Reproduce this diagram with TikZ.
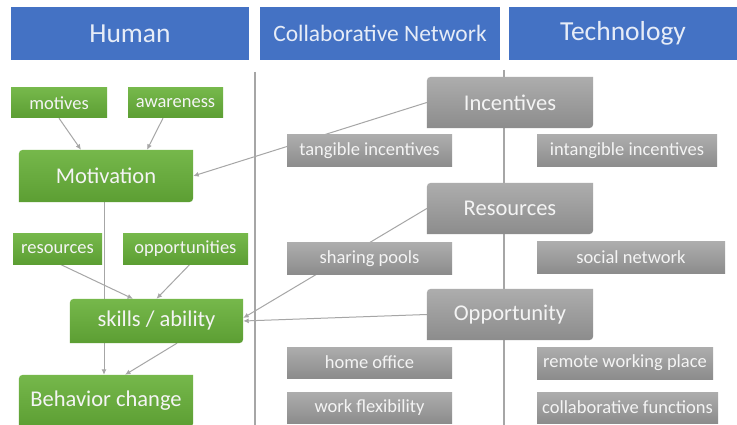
\documentclass[tikz,border=0pt]{standalone}
\usepackage{fontspec}
\setmainfont{Carlito}
\usetikzlibrary{arrows.meta}
\pgfdeclarelayer{bg}
\pgfdeclarelayer{lines}
\pgfdeclarelayer{boxes}
\pgfsetlayers{bg,lines,boxes,main}
\definecolor{hblue}{HTML}{4472C4}
\definecolor{gtop}{HTML}{76B84B}
\definecolor{gbot}{HTML}{5C9E33}
\definecolor{ytop}{HTML}{ADADAD}
\definecolor{ybot}{HTML}{8C8C8C}
\definecolor{ltxt}{HTML}{F4F4F4}
\definecolor{htxt}{HTML}{E6ECF7}
\definecolor{lgray}{HTML}{A6A6A6}
\newcommand\diagshade[3]{%
  \begin{pgfonlayer}{boxes}
  \shade[top color=#2,bottom color=#3]
    ([yshift=-9pt]#1.north west) .. controls (#1.north west) .. ([xshift=9pt]#1.north west)
    -- (#1.north east) -- ([yshift=9pt]#1.south east)
    .. controls (#1.south east) .. ([xshift=-9pt]#1.south east)
    -- (#1.south west) -- cycle;
  \end{pgfonlayer}}
\tikzset{
  hdr/.style={rectangle, fill=hblue, text=htxt, inner sep=0pt, minimum height=53pt, font=\fontsize{27.5}{30}\selectfont},
  gsmall/.style={rectangle, top color=gtop, bottom color=gbot, text=ltxt, inner sep=0pt, minimum height=30pt, font=\fontsize{18.5}{21}\selectfont},
  ysmall/.style={rectangle, top color=ytop, bottom color=ybot, text=ltxt, inner sep=0pt, minimum height=31pt, font=\fontsize{18.5}{21}\selectfont},
  bigbox/.style={rectangle, inner sep=0pt, text=ltxt, font=\fontsize{22.5}{25}\selectfont},
  conn/.style={draw=lgray, line width=1pt, -{Latex[length=5.5pt,width=5pt]}},
  divider/.style={draw=lgray, line width=1.6pt},
}
\begin{document}
\begin{tikzpicture}[x=1pt,y=-1pt]
\useasboundingbox (0,0) rectangle (737,425);
\begin{pgfonlayer}{bg}
\fill[white] (0,0) rectangle (737,425);
\end{pgfonlayer}
% headers
\node[hdr, minimum width=238pt] (hHuman) at (130,33.5) {Human};
\node[hdr, minimum width=240pt, font=\fontsize{23.5}{25}\selectfont] (hColl) at (380,33.5) {Collaborative Network};
\node[hdr, minimum width=228pt] (hTech) at (623,33.5) {Technology};
% dividers
\coordinate (d1a) at (255,72);
\coordinate (d1b) at (255,425);
\coordinate (d2a) at (504,70);
\coordinate (d2b) at (504,425);
% green nodes
\node[gsmall, minimum width=96pt] (motives) at (59,103) {motives};
\node[gsmall, minimum width=95pt] (awareness) at (175.5,103) {awareness};
\node[bigbox, minimum width=174pt, minimum height=52pt] (motivation) at (106,176) {Motivation};
\diagshade{motivation}{gtop}{gbot}
\node[gsmall, minimum width=89pt] (resources) at (57.5,249) {resources};
\node[gsmall, minimum width=125pt] (opportunities) at (185.5,249) {opportunities};
\node[bigbox, minimum width=173pt, minimum height=44pt] (skills) at (156.5,321) {skills / ability};
\diagshade{skills}{gtop}{gbot}
\node[bigbox, minimum width=174pt, minimum height=52pt] (behavior) at (106,401) {Behavior change};
\diagshade{behavior}{gtop}{gbot}
% gray nodes
\node[bigbox, minimum width=166pt, minimum height=51pt] (incentives) at (510,102.5) {Incentives};
\diagshade{incentives}{ytop}{ybot}
\node[ysmall, minimum width=165pt, minimum height=32pt] (tangible) at (369.5,151) {tangible incentives};
\node[ysmall, minimum width=180pt, minimum height=32pt] (intangible) at (627,151) {intangible incentives};
\node[bigbox, minimum width=166pt, minimum height=51pt] (resourcesC) at (510,208.5) {Resources};
\diagshade{resourcesC}{ytop}{ybot}
\node[ysmall, minimum width=165pt] (sharing) at (369.5,258.5) {sharing pools};
\node[ysmall, minimum width=188pt] (social) at (631,257.5) {social network};
\node[bigbox, minimum width=166pt, minimum height=51pt] (opportunity) at (510,314.5) {Opportunity};
\diagshade{opportunity}{ytop}{ybot}
\node[ysmall, minimum width=165pt] (homeoffice) at (369.5,362.5) {home office};
\node[ysmall, minimum width=176pt, minimum height=32pt] (remote) at (625,363) {remote working place};
\node[ysmall, minimum width=165pt] (flex) at (369.5,407.5) {work flexibility};
\node[ysmall, minimum width=181pt] (collab) at (627.5,407.5) {collaborative functions};
% connectors
\begin{pgfonlayer}{lines}
\draw[divider] (d1a) -- (d1b);
\draw[divider] (d2a) -- (d2b);
\draw[conn] (motives.south) -- ([xshift=-25pt]motivation.north);
\draw[conn] ([xshift=-12.5pt]awareness.south) -- ([xshift=41pt]motivation.north);
\draw[conn] (incentives.west) -- (motivation.east);
\draw[conn] (resourcesC.west) -- ([yshift=3pt]skills.east);
\draw[conn] (opportunity.west) -- (skills.east);
\draw[conn] ([xshift=-2pt]motivation.south) -- ([xshift=-2pt]behavior.north);
\draw[conn] ([xshift=2.5pt]resources.south) -- ([xshift=-23.5pt]skills.north);
\draw[conn] ([xshift=4.5pt]opportunities.south) -- (skills.north);
\draw[conn] ([xshift=20.5pt]skills.south) -- ([xshift=19pt]behavior.north);
\end{pgfonlayer}
\end{tikzpicture}
\end{document}
